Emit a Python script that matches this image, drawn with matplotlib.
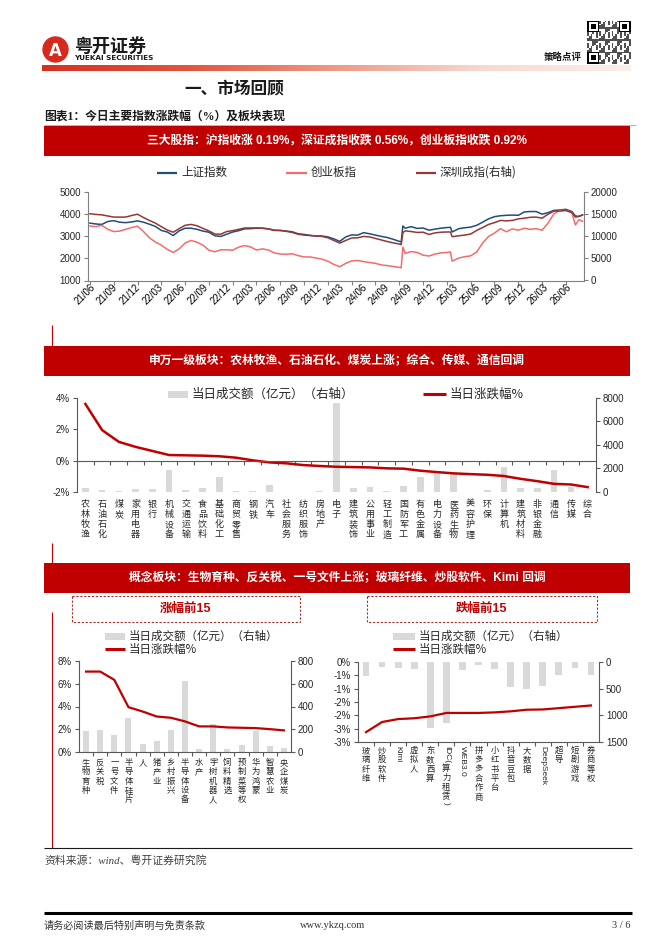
import numpy as np
import matplotlib
matplotlib.use("Agg")
import matplotlib.pyplot as plt
import matplotlib.transforms as mtrans
from matplotlib.colors import LinearSegmentedColormap
from matplotlib.patches import Rectangle, Circle

plt.rcParams['font.family'] = ['Liberation Sans', 'Noto Sans CJK SC', 'DejaVu Sans']
plt.rcParams['axes.unicode_minus'] = False

W, H = 662, 936
RED = '#C00000'
BAR = '#D9D9D9'
AXC = '#7F7F7F'
TXT = '#262626'
CJK = ['Noto Sans CJK SC', 'DejaVu Sans']

# ---------------- data: index history ----------------
date_labels = ['21/06', '21/09', '21/12', '22/03', '22/06', '22/09', '22/12', '23/03',
               '23/06', '23/09', '23/12', '24/03', '24/06', '24/09', '24/09', '24/12',
               '25/03', '25/06', '25/09', '25/12', '26/03', '26/06']
# position along the time axis (one unit = one tick mark)
pos = [0.0, 0.25, 0.5, 0.75, 1.0, 1.25, 1.5, 1.75, 2.0, 2.25, 2.5, 2.75, 3.0, 3.25, 3.5, 3.75,
       4.0, 4.25, 4.5, 4.75, 5.0, 5.25, 5.5, 5.75, 6.0, 6.25, 6.5, 6.75, 7.0, 7.25, 7.5, 7.75,
       8.0, 8.25, 8.5, 8.75, 9.0, 9.25, 9.5, 9.75, 10.0, 10.25, 10.5, 10.75, 11.0, 11.25, 11.5,
       11.75, 12.0, 12.25, 12.5, 12.75, 13.0, 13.08, 13.15, 13.25, 13.5, 13.75, 14.0, 14.25,
       14.5, 14.75, 15.0, 15.15, 15.22, 15.5, 15.75, 16.0, 16.25, 16.5, 16.75, 17.0, 17.25,
       17.5, 17.75, 18.0, 18.25, 18.5, 18.75, 19.0, 19.25, 19.5, 19.75, 20.0, 20.25, 20.4,
       20.55, 20.7]
sh_index = [3580, 3540, 3520, 3650, 3690, 3620, 3600, 3630, 3680, 3620, 3530, 3430, 3250, 3180,
            3020, 3230, 3350, 3350, 3300, 3220, 3170, 3010, 2980, 3080, 3180, 3240, 3320, 3330,
            3350, 3350, 3320, 3260, 3250, 3220, 3190, 3100, 3070, 3030, 3000, 3000, 2960, 2870,
            2760, 2960, 3050, 3040, 3150, 3100, 3040, 2980, 2930, 2850, 2760, 2730, 3450, 3350,
            3420, 3340, 3360, 3260, 3310, 3350, 3380, 3390, 3180, 3330, 3370, 3400, 3480, 3620,
            3770, 3870, 3910, 3930, 3940, 3930, 4080, 4100, 4100, 3980, 4050, 4150, 4170, 4200,
            4100, 3900, 3880, 3950]
cyb_index = [3450, 3420, 3480, 3300, 3200, 3220, 3300, 3380, 3440, 3200, 2920, 2730, 2590, 2400,
             2260, 2420, 2680, 2800, 2720, 2590, 2360, 2290, 2380, 2380, 2360, 2500, 2570, 2510,
             2370, 2420, 2370, 2240, 2190, 2180, 2200, 2120, 2060, 2060, 2010, 1960, 1870, 1720,
             1620, 1770, 1880, 1900, 1850, 1810, 1770, 1700, 1670, 1630, 1590, 1570, 2500, 2220,
             2300, 2260, 2140, 2100, 2190, 2240, 2260, 2280, 1870, 2010, 2070, 2110, 2280, 2680,
             2980, 3130, 3330, 3190, 3320, 3260, 3350, 3300, 3330, 3260, 3580, 4000, 4150, 4150,
             4050, 3500, 3730, 3660]
sz_index = [15000, 14850, 14750, 14500, 14250, 14250, 14250, 14600, 14900, 14150, 13500, 12900,
            12100, 11350, 10850, 11650, 12400, 12600, 12300, 11700, 11150, 10450, 10400, 11000,
            11200, 11500, 11800, 11800, 11800, 11750, 11600, 11250, 11250, 11050, 10800, 10400,
            10200, 10100, 10000, 9900, 9600, 9000, 8400, 9000, 9550, 9600, 9900, 9800, 9450,
            9100, 8750, 8450, 8200, 8050, 10750, 11150, 11000, 10800, 10850, 10350, 10700, 10850,
            10900, 10900, 9850, 10050, 10200, 10450, 11250, 11900, 12600, 13000, 13500, 13400,
            13500, 13850, 14000, 14200, 14250, 14000, 14900, 15600, 15600, 15750, 15250, 14250,
            14400, 14750]

# ---------------- data: Shenwan level-1 sectors ----------------
sectors = ['农林牧渔', '石油石化', '煤炭', '家用电器', '银行', '机械设备', '交通运输', '食品饮料',
           '基础化工', '商贸零售', '钢铁', '汽车', '社会服务', '纺织服饰', '房地产', '电子',
           '建筑装饰', '公用事业', '轻工制造', '国防军工', '有色金属', '电力设备', '医药生物',
           '美容护理', '环保', '计算机', '建筑材料', '非银金融', '通信', '传媒', '综合']
sector_pct = [3.62, 1.95, 1.20, 0.88, 0.62, 0.36, 0.34, 0.32, 0.28, 0.19, 0.02, -0.11, -0.17,
              -0.28, -0.34, -0.39, -0.41, -0.43, -0.49, -0.51, -0.64, -0.73, -0.81, -0.86, -0.90,
              -0.98, -1.16, -1.31, -1.48, -1.52, -1.69]
sector_amount = [380, 140, 90, 225, 280, 1900, 140, 366, 1270, 85, 56, 563, 30, 30, 110, 7600,
                 338, 394, 113, 507, 1270, 1690, 1550, 30, 140, 2110, 338, 338, 1910, 422, 20]

# ---------------- data: concept boards ----------------
gainers = ['生物育种', '反关税', '一号文件', '半导体硅片', '人', '猪产业', '乡村振兴', '半导体设备',
           '水产', '宇树机器人', '饲料精选', '预制菜等权', '华为鸿蒙', '智慧农业', '央企煤炭']
gainer_pct = [7.07, 7.07, 6.34, 3.94, 3.56, 3.12, 3.01, 2.69, 2.25, 2.25, 2.16, 2.13, 2.10,
              2.01, 1.90]
gainer_amount = [187, 196, 146, 298, 73, 99, 190, 628, 29, 245, 23, 64, 187, 55, 32]

losers = ['玻璃纤维', '炒股软件', 'Kimi', '虚拟人', '东数西算', 'IDC(算力租赁)', 'WEB3.0',
          '拼多多合作商', '小红书平台', '抖音豆包', '大数据', 'DeepSeek', '超导', '短剧游戏', '券商等权']
loser_pct = [-2.63, -2.25, -2.14, -2.11, -2.04, -1.91, -1.91, -1.91, -1.89, -1.85, -1.79,
             -1.78, -1.73, -1.68, -1.63]
loser_amount = [262, 94, 112, 125, 1231, 1144, 144, 62, 137, 469, 512, 450, 237, 106, 237]
loser_ticks = [0, -0.5, -1, -1.5, -2, -2.5, -3]
loser_ticklabels = ['0%', '-1%', '-1%', '-2%', '-2%', '-3%', '-3%']

# ---------------- figure ----------------
fig = plt.figure(figsize=(W / 100, H / 100), dpi=100)


def box(x0, y0, x1, y1):
    return [x0 / W, 1 - y1 / H, (x1 - x0) / W, (y1 - y0) / H]


bg = fig.add_axes([0, 0, 1, 1])
bg.set_xlim(0, W)
bg.set_ylim(H, 0)
bg.axis('off')


def hline(x0, x1, y, color, lw):
    bg.plot([x0, x1], [y, y], color=color, lw=lw, solid_capstyle='butt')


def vline(x, y0, y1, color, lw):
    bg.plot([x, x], [y0, y1], color=color, lw=lw, solid_capstyle='butt')


# header
bg.add_patch(Circle((55.5, 49.5), 12.5, color='#D52B1E'))
bg.text(55.5, 50.5, 'A', color='white', fontsize=12, fontweight='bold', ha='center',
        va='center', family='DejaVu Sans')
bg.text(74, 46, '粤开证券', fontsize=13, fontweight='heavy', ha='left', va='center',
        family=CJK, color='#1A1A1A')
bg.text(74, 58, 'YUEKAI SECURITIES', fontsize=5.2, fontweight='bold', ha='left', va='center',
        family='DejaVu Sans', color='#1A1A1A')
grad_cmap = LinearSegmentedColormap.from_list(
    'hdr', ['#D7301F', '#E2553E', '#EE9A86', '#F8D9D0', '#FCEFEA'])
bg.imshow(np.linspace(0, 1, 256).reshape(1, -1), extent=[42, 631, 71, 65], aspect='auto',
          cmap=grad_cmap, zorder=1)
bg.set_xlim(0, W)
bg.set_ylim(H, 0)
bg.text(582, 57, '策略点评', fontsize=6.8, fontweight='bold', ha='right', va='center',
        family=CJK, color='#1A1A1A')

# decorative QR block
qr = fig.add_axes(box(587, 21, 631, 64))
ii, jj = np.indices((25, 25))
qr_img = ((ii * ii + 3 * jj + ii * jj) % 7 < 3).astype(float) * 0.75
for (r0, c0) in [(0, 0), (0, 18), (18, 0)]:
    qr_img[r0:r0 + 7, c0:c0 + 7] = 1
    qr_img[r0 + 1:r0 + 6, c0 + 1:c0 + 6] = 0
    qr_img[r0 + 2:r0 + 5, c0 + 2:c0 + 5] = 1
qr.imshow(qr_img, cmap='Greys', vmin=0, vmax=1, interpolation='nearest', aspect='auto')
qr.axis('off')

bg.text(234, 89, '一、市场回顾', fontsize=12, fontweight='bold', ha='center', va='center',
        family=CJK, color='#1A1A1A')
bg.text(44, 117, '图表1：今日主要指数涨跌幅（%）及板块表现', fontsize=8.5, fontweight='bold',
        ha='left', va='center', family=['Liberation Serif', 'Noto Sans CJK SC'], color='#1A1A1A')
hline(44, 636, 124.5, '#A6A6A6', 0.6)


def banner(y0, y1, text):
    bg.add_patch(Rectangle((44, y0), 586, y1 - y0, color=RED, lw=0))
    bg.text(337, (y0 + y1) / 2, text, color='white', fontsize=8.5, fontweight='bold',
            ha='center', va='center')


banner(126, 156, '三大股指：沪指收涨 0.19%，深证成指收跌 0.56%，创业板指收跌 0.92%')
banner(346, 376, '申万一级板块：农林牧渔、石油石化、煤炭上涨；综合、传媒、通信回调')
banner(563, 593, '概念板块：生物育种、反关税、一号文件上涨；玻璃纤维、炒股软件、Kimi 回调')

vline(52, 325, 346, RED, 0.8)
vline(52, 543, 563, RED, 0.8)
vline(52, 612, 848, RED, 0.8)


def legend_line(x0, x1, y, color, lw, label, fs):
    bg.plot([x0, x1], [y, y], color=color, lw=lw, solid_capstyle='butt')
    bg.text(x1 + 4, y, label, fontsize=fs, ha='left', va='center', family=CJK, color=TXT)


def legend_bar(x0, x1, y, label, fs):
    bg.add_patch(Rectangle((x0, y - 3.5), x1 - x0, 7, color=BAR, lw=0))
    bg.text(x1 + 4, y, label, fontsize=fs, ha='left', va='center', family=CJK, color=TXT)


def style_axes(ax, ax2, color):
    for a in (ax, ax2):
        for s in a.spines.values():
            s.set_color(color)
            s.set_linewidth(0.8)
        a.spines['top'].set_visible(False)
        a.tick_params(labelsize=7, labelcolor=TXT, color=color, length=3, width=0.8, pad=2)
    ax.spines['right'].set_visible(False)
    ax2.spines['left'].set_visible(False)
    ax2.spines['bottom'].set_visible(False)


# ---------------- chart 1: index lines ----------------
legend_line(157, 177, 172.5, '#1F4E79', 1.6, '上证指数', 8.3)
legend_line(286, 307, 172.5, '#F36C6C', 1.6, '创业板指', 8.3)
legend_line(416, 436, 172.5, '#953735', 1.6, '深圳成指(右轴)', 8.3)

ax = fig.add_axes(box(88, 191.5, 583.5, 280.5))
ax2 = ax.twinx()
ax.plot(pos, sh_index, color='#1F4E79', lw=1.1)
ax.plot(pos, cyb_index, color='#F36C6C', lw=1.1)
ax2.plot(pos, sz_index, color='#953735', lw=1.1)
ax.set_xlim(-0.08, 20.74)
ax.set_ylim(1000, 5000)
ax2.set_ylim(0, 20000)
ax.set_yticks([1000, 2000, 3000, 4000, 5000])
ax2.set_yticks([0, 5000, 10000, 15000, 20000])
style_axes(ax, ax2, AXC)
ax.xaxis.remove_overlapping_locs = False
ax.set_xticks(range(21))
ax.set_xticklabels([])
ax.set_xticks(np.linspace(0, 20, len(date_labels)), date_labels, minor=True)
ax.tick_params(axis='x', which='minor', length=0, labelsize=7, pad=1)
for lbl in ax.get_xticklabels(minor=True):
    lbl.set_rotation(45)
    lbl.set_ha('right')
    lbl.set_va('top')
    lbl.set_rotation_mode('anchor')


def vertical_label(ax, i, name, gap, fs, ls):
    trans = mtrans.blended_transform_factory(ax.transData, ax.transAxes)
    if name.isascii():
        parts = [(name, -90)]
    elif '(' in name:
        head, rest = name.split('(')
        body, tail = rest.split(')')
        parts = [(head + '(', -90), ('\n'.join(body), 0), (')', -90)]
    else:
        parts = [('\n'.join(name), 0)]
    renderer = fig.canvas.get_renderer()
    off = gap
    for s, rot in parts:
        t = ax.text(i, 0, s, transform=mtrans.offset_copy(trans, fig=fig, y=-off, units='dots'),
                    rotation=rot, ha='center', va='top', fontsize=fs, linespacing=ls,
                    color=TXT, family=CJK if rot == 0 else ['Liberation Sans'])
        off += t.get_window_extent(renderer).height + 1


# ---------------- chart 2: sectors ----------------
legend_bar(168, 188, 394, '当日成交额（亿元）（右轴）', 9)
legend_line(423, 446, 394, RED, 2.2, '当日涨跌幅%', 9)

ax = fig.add_axes(box(77, 398, 596, 492))
ax2 = ax.twinx()
ax.set_zorder(ax2.get_zorder() + 1)
ax.patch.set_visible(False)
xs = np.arange(len(sectors))
ax2.bar(xs, sector_amount, width=0.4, color=BAR)
ax.plot(xs, sector_pct, color=RED, lw=1.8)
ax.set_xlim(-0.5, len(sectors) - 0.5)
ax.set_ylim(-2, 4)
ax2.set_ylim(0, 8000)
ax.set_yticks([-2, 0, 2, 4], ['-2%', '0%', '2%', '4%'])
ax2.set_yticks([0, 2000, 4000, 6000, 8000])
style_axes(ax, ax2, '#595959')
ax.spines['bottom'].set_position(('data', 0))
ax.set_xticks(np.arange(0.5, len(sectors) - 1, 1))
ax.set_xticklabels([])
for i, name in enumerate(sectors):
    vertical_label(ax, i, name, 8, 6.5, 1.15)

# ---------------- chart 3: top-15 concept gainers ----------------
for x0, x1, title in [(72, 300, '涨幅前15'), (367, 597, '跌幅前15')]:
    bg.add_patch(Rectangle((x0, 595.5), x1 - x0, 26.5, fill=False, ec='#A0302A', lw=0.8,
                           ls=(0, (2, 1.5))))
    bg.text((x0 + x1) / 2, 609, title, color=RED, fontsize=9, fontweight='bold',
            ha='center', va='center')

legend_bar(105, 125, 636, '当日成交额（亿元）（右轴）', 8.3)
legend_line(105, 125, 649, RED, 2.2, '当日涨跌幅%', 8.3)

ax = fig.add_axes(box(79, 661, 291, 752))
ax2 = ax.twinx()
ax.set_zorder(ax2.get_zorder() + 1)
ax.patch.set_visible(False)
xs = np.arange(len(gainers))
ax2.bar(xs, gainer_amount, width=0.42, color=BAR)
ax.plot(xs, gainer_pct, color=RED, lw=1.6)
ax.set_xlim(-0.5, len(gainers) - 0.5)
ax.set_ylim(0, 8)
ax2.set_ylim(0, 800)
ax.set_yticks([0, 2, 4, 6, 8], ['0%', '2%', '4%', '6%', '8%'])
ax2.set_yticks([0, 200, 400, 600, 800])
style_axes(ax, ax2, '#595959')
ax.set_xticks(np.arange(0.5, len(gainers) - 1, 1))
ax.set_xticklabels([])
for i, name in enumerate(gainers):
    vertical_label(ax, i, name, 6, 6, 1.05)

# ---------------- chart 4: top-15 concept losers ----------------
legend_bar(393, 415, 636, '当日成交额（亿元）（右轴）', 8.3)
legend_line(393, 415, 649, RED, 2.2, '当日涨跌幅%', 8.3)

ax = fig.add_axes(box(358, 662, 599, 742))
ax2 = ax.twinx()
ax.set_zorder(ax2.get_zorder() + 1)
ax.patch.set_visible(False)
xs = np.arange(len(losers))
ax2.bar(xs, loser_amount, width=0.42, color=BAR)
ax.plot(xs, loser_pct, color=RED, lw=1.6)
ax.set_xlim(-0.5, len(losers) - 0.5)
ax.set_ylim(-3, 0)
ax2.set_ylim(1500, 0)
ax.set_yticks(loser_ticks, loser_ticklabels)
ax2.set_yticks([0, 500, 1000, 1500])
style_axes(ax, ax2, '#595959')
ax.set_xticks(np.arange(0.5, len(losers) - 1, 1))
ax.set_xticklabels([])
for i, name in enumerate(losers):
    vertical_label(ax, i, name, 4, 6, 1.05)

# ---------------- footer ----------------
hline(44, 632, 848, '#1A1A1A', 0.8)
bg.text(44, 860, '资料来源：wind、粤开证券研究院', fontsize=7.8, style='italic', ha='left',
        va='center', family=['Liberation Serif', 'Noto Sans CJK SC'], color='#404040')
hline(44, 632, 913, '#000000', 2.2)
bg.text(44, 926, '请务必阅读最后特别声明与免责条款', fontsize=7.3, ha='left', va='center',
        family=CJK, color='#333333')
bg.text(300, 926, 'www.ykzq.com', fontsize=7.5, ha='left', va='center',
        family='Liberation Serif', color='#333333')
bg.text(630, 926, '3 / 6', fontsize=7.5, ha='right', va='center',
        family='Liberation Serif', color='#333333')

fig.savefig('out.png', dpi=100, facecolor='white')
